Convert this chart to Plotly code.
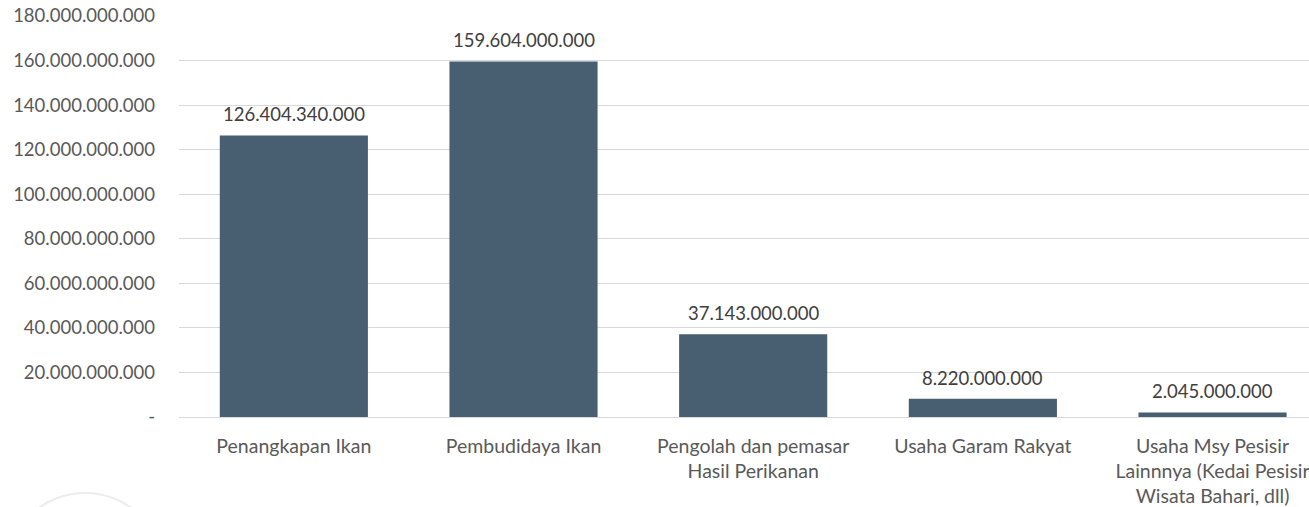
import plotly.graph_objects as go

categories = [
    "Penangkapan Ikan",
    "Pembudidaya Ikan",
    "Pengolah dan pemasar<br>Hasil Perikanan",
    "Usaha Garam Rakyat",
    "Usaha Msy Pesisir<br>Lainnnya (Kedai Pesisir<br>Wisata Bahari, dll)",
]
values = [126404340000, 159604000000, 37143000000, 8220000000, 2045000000]
y_ticks = [0, 20e9, 40e9, 60e9, 80e9, 100e9, 120e9, 140e9, 160e9, 180e9]


def fmt(v):
    return f"{int(v):,}".replace(",", ".")


y_ticktext = ["-" if v == 0 else fmt(v) for v in y_ticks]
labels = [fmt(v) for v in values]
xpos = list(range(len(categories)))

W, H = 1309, 507
L, R, T, B = 179, 0, 16, 90
pw, ph = W - L - R, H - T - B

fig = go.Figure(
    go.Bar(
        x=xpos,
        y=values,
        marker=dict(color="#475F70", line=dict(width=0)),
        width=0.645,
        hoverinfo="skip",
    )
)

for xi, v, lab in zip(xpos, values, labels):
    fig.add_annotation(
        x=xi,
        y=v,
        text=lab,
        showarrow=False,
        yanchor="bottom",
        yshift=8,
        font=dict(family="Lato", size=18.5, color="#404040"),
    )

def px2paper(x, y):
    return (x - L) / pw, (H - B - y) / ph

x0, y0 = px2paper(6, 651)
x1, y1 = px2paper(164, 493)

fig.update_layout(
    width=W,
    height=H,
    margin=dict(l=L, r=R, t=T, b=B, pad=0, autoexpand=False),
    paper_bgcolor="white",
    plot_bgcolor="white",
    showlegend=False,
    font=dict(family="Lato", size=18.5, color="#595959"),
    xaxis=dict(
        tickmode="array",
        tickvals=xpos,
        ticktext=categories,
        range=[-0.5, 4.42],
        showgrid=False,
        zeroline=False,
        showline=False,
        ticks="",
        automargin=False,
        ticklabeloverflow="allow",
        ticklabelstandoff=15,
        tickfont=dict(family="Lato", size=19.5, color="#595959"),
    ),
    yaxis=dict(
        tickmode="array",
        tickvals=y_ticks,
        ticktext=y_ticktext,
        range=[0, 180e9],
        showgrid=True,
        gridcolor="#d9d9d9",
        gridwidth=1.3,
        zeroline=True,
        zerolinecolor="#d9d9d9",
        zerolinewidth=1.3,
        showline=False,
        ticks="",
        automargin=False,
        ticklabeloverflow="allow",
        ticklabelstandoff=23,
        tickfont=dict(family="Lato", size=18.5, color="#595959"),
    ),
    shapes=[
        dict(
            type="circle",
            xref="paper",
            yref="paper",
            x0=x0,
            x1=x1,
            y0=y0,
            y1=y1,
            line=dict(color="#ececec", width=2),
            layer="below",
        )
    ],
)

fig.write_html(
    "out.html",
    config={"displayModeBar": False},
    post_script="document.body.style.margin='0';document.body.style.overflow='hidden';",
)
